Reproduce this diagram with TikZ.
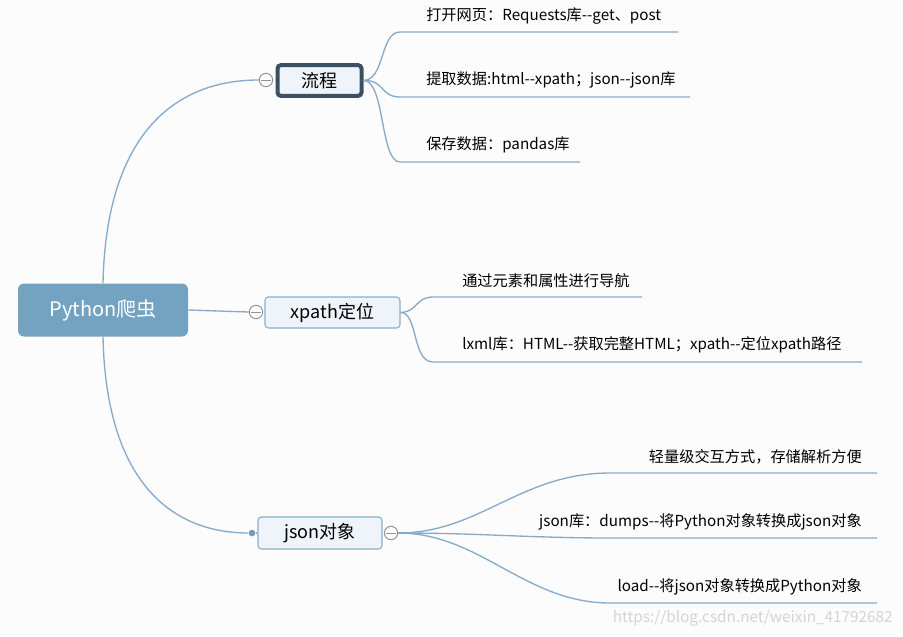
\documentclass[tikz,border=0pt]{standalone}
\usepackage{fontspec}
\setmainfont{Noto Sans CJK SC}[Ligatures=TeXOff]
\definecolor{bgc}{HTML}{FCFCFC}
\definecolor{rootc}{HTML}{74A2C1}
\definecolor{linec}{HTML}{86AACA}
\definecolor{subfill}{HTML}{EEF4F9}
\definecolor{subdraw}{HTML}{88AECB}
\definecolor{selc}{HTML}{3C5063}
\definecolor{wmc}{HTML}{D4D4D4}
\begin{document}
\begin{tikzpicture}[x=0.75pt,y=-0.75pt,
  rootbox/.style={rectangle,rounded corners=4.5pt,fill=rootc,text=white,minimum width=127.5pt,minimum height=39.75pt,inner sep=0pt,font=\fontsize{15pt}{18pt}\selectfont},
  subbox/.style={rectangle,rounded corners=2.5pt,fill=subfill,draw=subdraw,line width=0.8pt,inner sep=0pt,font=\fontsize{13.5pt}{16pt}\selectfont},
  collapser/.style={circle,draw=gray!85,fill=white,line width=0.75pt,minimum size=10pt,inner sep=0pt},
  leaf/.style={inner sep=0pt,font=\fontsize{11.4pt}{13pt}\selectfont},
  conn/.style={draw=linec,line width=1pt},
]
\fill[bgc] (0,0) rectangle (903,636);
\useasboundingbox (0,0) rectangle (903,636);

% main nodes
\node[rootbox] (root) at (103,310) {Python爬虫};
\node[subbox,draw=selc,line width=3pt,minimum width=63pt,minimum height=23pt] (liu) at (319.5,80.5) {流程};
\node[subbox,minimum width=101.25pt,minimum height=23.25pt] (xp) at (332.5,312.5) {xpath定位};
\node[subbox,minimum width=93pt,minimum height=24pt] (js) at (320,533) {json对象};

% collapse markers
\node[collapser] (c1) at (266,80) {};
\node[collapser] (c2) at (256,312) {};
\node[circle,fill=linec!90!black,minimum size=5pt,inner sep=0pt] (c3) at (252,533) {};
\node[collapser] (c4) at (391,533) {};

% root connectors
\draw[conn] (root.north) .. controls (106,140) and (170,80) .. (c1.west);
\draw[conn] (root.east) -- (c2.west);
\draw[conn] (root.south) .. controls (106,480) and (170,533) .. (c3.west);
\draw[conn] (c3) -- (js.west);

% leaf coordinates
\coordinate (l1a) at (400,32);  \coordinate (l1b) at (678,32);
\coordinate (l2a) at (400,97);  \coordinate (l2b) at (690,97);
\coordinate (l3a) at (400,162); \coordinate (l3b) at (580,162);
\coordinate (x1a) at (433,297); \coordinate (x1b) at (642,297);
\coordinate (x2a) at (433,362); \coordinate (x2b) at (862,362);
\coordinate (j1a) at (610,473); \coordinate (j1b) at (877,473);
\coordinate (j2a) at (610,538); \coordinate (j2b) at (877,538);
\coordinate (j3a) at (610,603); \coordinate (j3b) at (877,603);

% flow leaves
\draw[conn] (liu.east) .. controls (385,80) and (380,32) .. (l1a) -- (l1b);
\draw[conn] (liu.east) .. controls (385,80) and (380,97) .. (l2a) -- (l2b);
\draw[conn] (liu.east) .. controls (385,80) and (380,162) .. (l3a) -- (l3b);
\node[leaf,anchor=west] (t1) at (426,16) {打开网页：Requests库--get、post};
\node[leaf,anchor=west] (t2) at (426,80) {提取数据:html--xpath；json--json库};
\node[leaf,anchor=west] (t3) at (426,145) {保存数据：pandas库};

% xpath leaves
\draw[conn] (xp.east) .. controls (418,312) and (415,297) .. (x1a) -- (x1b);
\draw[conn] (xp.east) .. controls (418,312) and (412,362) .. (x2a) -- (x2b);
\node[leaf,anchor=west] (t4) at (462,281) {通过元素和属性进行导航};
\node[leaf,anchor=west] (t5) at (462,345) {lxml库：HTML--获取完整HTML；xpath--定位xpath路径};

% json leaves
\draw[conn] (c4.east) .. controls (480,533) and (520,473) .. (j1a) -- (j1b);
\draw[conn] (c4.east) .. controls (480,533) and (530,538) .. (j2a) -- (j2b);
\draw[conn] (c4.east) .. controls (480,533) and (525,603) .. (j3a) -- (j3b);
\node[leaf,anchor=east] (t6) at (862,457) {轻量级交互方式，存储解析方便};
\node[leaf,anchor=east] (t7) at (862,522) {json库：dumps--将Python对象转换成json对象};
\node[leaf,anchor=east] (t8) at (862,587) {load--将json对象转换成Python对象};

% minus marks
\foreach \c in {c1,c2,c4}{\draw[gray!85,line width=0.75pt] ([xshift=1.5pt]\c.west) -- ([xshift=-1.5pt]\c.east);}

% watermark
\node[inner sep=0pt,anchor=east,text=wmc,font=\fontsize{11.5pt}{13pt}\selectfont] (wm) at (893,618) {https://blog.csdn.net/weixin\_41792682};
\end{tikzpicture}
\end{document}
